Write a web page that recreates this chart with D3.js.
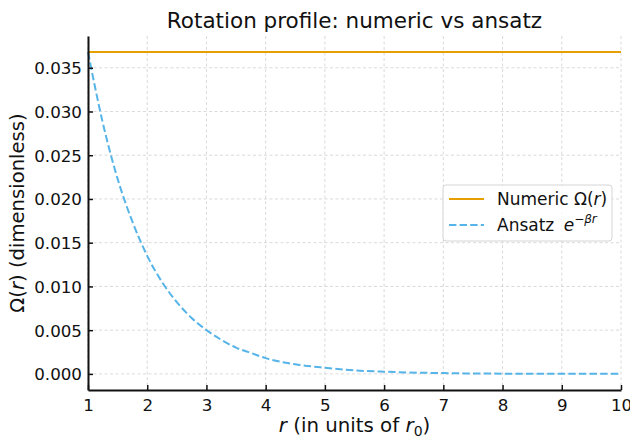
<!DOCTYPE html>
<html><head><meta charset="utf-8">
<script src="https://cdn.jsdelivr.net/npm/d3@7"></script>
<style>body{margin:0;background:#fff}svg{display:block;font-family:"DejaVu Sans",sans-serif}</style>
</head><body><svg id="c" width="630" height="440"></svg>
<script>
const rValues = [1,1.25,1.5,1.75,2,2.25,2.5,2.75,3,3.25,3.5,3.75,4,4.5,5,5.5,6,7,8,9,10];
const ansatzValues = [0.0368,0.0287,0.0223,0.0174,0.0135,0.0105,0.0082,0.0064,0.0050,0.0039,0.0030,0.0024,0.0018,0.0011,0.0007,0.0004,0.00025,0.00009,0.00003,0.00001,0.000005];
const numericValues = [0.0368,0.0368,0.0368,0.0368,0.0368,0.0368,0.0368,0.0368,0.0368,0.0368,0.0368,0.0368,0.0368,0.0368,0.0368,0.0368,0.0368,0.0368,0.0368,0.0368,0.0368];
const xTicks = [1,2,3,4,5,6,7,8,9,10];
const yTicks = [0,0.005,0.010,0.015,0.020,0.025,0.030,0.035];

const svg = d3.select("#c");
const L=88,R=621,T=36,B=390;
const x = d3.scaleLinear().domain([1,10]).range([L,R]);
const y = d3.scaleLinear().domain([-0.00184,0.03863]).range([B,T]);

// grid
const g = svg.append("g");
g.selectAll(".gx").data(xTicks).join("line")
 .attr("x1",d=>x(d)).attr("x2",d=>x(d)).attr("y1",T).attr("y2",B)
 .attr("stroke","#b0b0b0").attr("stroke-opacity",0.6).attr("stroke-width",0.8).attr("stroke-dasharray","3,2.5");
g.selectAll(".gy").data(yTicks).join("line")
 .attr("y1",d=>y(d)).attr("y2",d=>y(d)).attr("x1",L).attr("x2",R)
 .attr("stroke","#b0b0b0").attr("stroke-opacity",0.6).attr("stroke-width",0.8).attr("stroke-dasharray","3,2.5");

// lines
const line = d3.line().x((d,i)=>x(rValues[i])).y(d=>y(d)).curve(d3.curveMonotoneX);
svg.append("path").datum(numericValues).attr("d",line).attr("fill","none")
 .attr("stroke","#E69F00").attr("stroke-width",2);
svg.append("path").datum(ansatzValues).attr("d",line).attr("fill","none")
 .attr("stroke","#56B4E9").attr("stroke-width",2).attr("stroke-dasharray","7.4,3.2");

// axes
const xAxis = svg.append("g").attr("transform",`translate(0,${B})`)
 .call(d3.axisBottom(x).tickValues(xTicks).tickSizeInner(-5).tickSizeOuter(0).tickPadding(9).tickFormat(d3.format("d")));
const yAxis = svg.append("g").attr("transform",`translate(${L},0)`)
 .call(d3.axisLeft(y).tickValues(yTicks).tickSizeInner(-5).tickSizeOuter(0).tickPadding(6).tickFormat(d3.format(".3f")));
[xAxis,yAxis].forEach(a=>{
  a.select(".domain").attr("stroke","#111").attr("stroke-width",2);
  a.selectAll(".tick line").attr("stroke","#111").attr("stroke-width",1.5);
  a.selectAll("text").attr("font-family","DejaVu Sans").attr("font-size",16.7).attr("fill","#111");
});
yAxis.selectAll("text").attr("dy","0.35em");

// title
svg.append("text").attr("x",(L+R)/2).attr("y",28).attr("text-anchor","middle")
 .attr("font-size",21.5).attr("fill","#111").text("Rotation profile: numeric vs ansatz");

// x label
const xl = svg.append("text").attr("x",(L+R)/2).attr("y",432).attr("text-anchor","middle")
 .attr("font-size",19.8).attr("fill","#111");
xl.append("tspan").attr("font-style","italic").text("r");
xl.append("tspan").text(" (in units of ");
xl.append("tspan").attr("font-style","italic").text("r");
xl.append("tspan").attr("font-size",14).attr("dy",4).text("0");
xl.append("tspan").attr("dy",-4).text(")");

// y label
const yl = svg.append("text").attr("transform",`translate(24,${(T+B)/2}) rotate(-90)`).attr("text-anchor","middle")
 .attr("font-size",19.6).attr("fill","#111");
yl.append("tspan").text("Ω(");
yl.append("tspan").attr("font-style","italic").text("r");
yl.append("tspan").text(") (dimensionless)");

// legend
const lg = svg.append("g");
lg.append("rect").attr("x",443).attr("y",185).attr("width",169).attr("height",56).attr("rx",3)
 .attr("fill","#fff").attr("fill-opacity",0.8).attr("stroke","#d5d5d5").attr("stroke-width",1);
lg.append("line").attr("x1",449).attr("x2",484).attr("y1",199).attr("y2",199).attr("stroke","#E69F00").attr("stroke-width",2);
lg.append("line").attr("x1",449).attr("x2",484).attr("y1",225).attr("y2",225).attr("stroke","#56B4E9").attr("stroke-width",2).attr("stroke-dasharray","7.4,3.2");
const t1 = lg.append("text").attr("x",497).attr("y",205).attr("font-size",17).attr("fill","#111");
t1.append("tspan").text("Numeric Ω(");
t1.append("tspan").attr("font-style","italic").text("r");
t1.append("tspan").text(")");
const t2 = lg.append("text").attr("x",497).attr("y",231).attr("font-size",17).attr("fill","#111");
t2.append("tspan").text("Ansatz ");
t2.append("tspan").attr("font-style","italic").attr("dx",4).text("e");
t2.append("tspan").attr("font-size",12).attr("dy",-8).text("−");
t2.append("tspan").attr("font-size",12).attr("font-style","italic").text("βr");
</script></body></html>
